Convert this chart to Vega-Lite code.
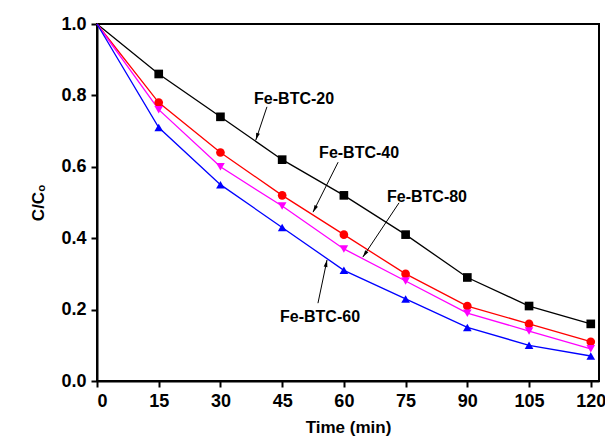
{
  "$schema": "https://vega.github.io/schema/vega-lite/v6.json",
  "width": 502,
  "height": 357,
  "autosize": {"type": "none"},
  "padding": {"left": 97, "top": 24, "right": 6, "bottom": 62},
  "background": "white",
  "config": {
    "font": "Liberation Sans",
    "view": {"stroke": "black", "strokeWidth": 2},
    "axis": {
      "domainColor": "black", "domainWidth": 2, "tickColor": "black", "tickWidth": 2,
      "tickSize": 6, "grid": false, "labelFont": "Liberation Sans", "labelFontWeight": "bold",
      "labelFontSize": 18, "labelColor": "black", "titleFont": "Liberation Sans",
      "titleFontWeight": "bold", "titleFontSize": 17, "titleColor": "black", "labelPadding": 5
    }
  },
  "datasets": {
    "series": [
      {"t": 0, "c": 1.0, "sample": "Fe-BTC-20"}, {"t": 15, "c": 0.86, "sample": "Fe-BTC-20"}, {"t": 30, "c": 0.74, "sample": "Fe-BTC-20"}, {"t": 45, "c": 0.62, "sample": "Fe-BTC-20"}, {"t": 60, "c": 0.52, "sample": "Fe-BTC-20"}, {"t": 75, "c": 0.41, "sample": "Fe-BTC-20"}, {"t": 90, "c": 0.29, "sample": "Fe-BTC-20"}, {"t": 105, "c": 0.21, "sample": "Fe-BTC-20"}, {"t": 120, "c": 0.16, "sample": "Fe-BTC-20"},
      {"t": 0, "c": 1.0, "sample": "Fe-BTC-40"}, {"t": 15, "c": 0.78, "sample": "Fe-BTC-40"}, {"t": 30, "c": 0.64, "sample": "Fe-BTC-40"}, {"t": 45, "c": 0.52, "sample": "Fe-BTC-40"}, {"t": 60, "c": 0.41, "sample": "Fe-BTC-40"}, {"t": 75, "c": 0.30, "sample": "Fe-BTC-40"}, {"t": 90, "c": 0.21, "sample": "Fe-BTC-40"}, {"t": 105, "c": 0.16, "sample": "Fe-BTC-40"}, {"t": 120, "c": 0.11, "sample": "Fe-BTC-40"},
      {"t": 0, "c": 1.0, "sample": "Fe-BTC-80"}, {"t": 15, "c": 0.76, "sample": "Fe-BTC-80"}, {"t": 30, "c": 0.60, "sample": "Fe-BTC-80"}, {"t": 45, "c": 0.49, "sample": "Fe-BTC-80"}, {"t": 60, "c": 0.37, "sample": "Fe-BTC-80"}, {"t": 75, "c": 0.28, "sample": "Fe-BTC-80"}, {"t": 90, "c": 0.19, "sample": "Fe-BTC-80"}, {"t": 105, "c": 0.14, "sample": "Fe-BTC-80"}, {"t": 120, "c": 0.09, "sample": "Fe-BTC-80"},
      {"t": 0, "c": 1.0, "sample": "Fe-BTC-60"}, {"t": 15, "c": 0.71, "sample": "Fe-BTC-60"}, {"t": 30, "c": 0.55, "sample": "Fe-BTC-60"}, {"t": 45, "c": 0.43, "sample": "Fe-BTC-60"}, {"t": 60, "c": 0.31, "sample": "Fe-BTC-60"}, {"t": 75, "c": 0.23, "sample": "Fe-BTC-60"}, {"t": 90, "c": 0.15, "sample": "Fe-BTC-60"}, {"t": 105, "c": 0.10, "sample": "Fe-BTC-60"}, {"t": 120, "c": 0.07, "sample": "Fe-BTC-60"}
    ],
    "notes": [
      {"label": "Fe-BTC-20", "tx": 47.9, "ty": 0.79, "x1": 41.3, "y1": 0.768, "x2": 38.6, "y2": 0.675},
      {"label": "Fe-BTC-40", "tx": 63.7, "ty": 0.639, "x1": 58.6, "y1": 0.613, "x2": 52.5, "y2": 0.473},
      {"label": "Fe-BTC-80", "tx": 80.2, "ty": 0.515, "x1": 73.4, "y1": 0.499, "x2": 64.6, "y2": 0.347},
      {"label": "Fe-BTC-60", "tx": 54.2, "ty": 0.179, "x1": 53.7, "y1": 0.218, "x2": 55.9, "y2": 0.339}
    ]
  },
  "layer": [
    {
      "data": {"name": "series"},
      "mark": {"type": "line", "strokeWidth": 1.3, "clip": false},
      "encoding": {
        "x": {"field": "t", "type": "quantitative", "scale": {"domain": [0, 122], "nice": false},
          "axis": {"title": "Time (min)", "values": [0, 7.5, 15, 22.5, 30, 37.5, 45, 52.5, 60, 67.5, 75, 82.5, 90, 97.5, 105, 112.5, 120],
            "labelExpr": "datum.value % 15 == 0 ? format(datum.value, 'd') : ''", "titlePadding": 9}},
        "y": {"field": "c", "type": "quantitative", "scale": {"domain": [0, 1], "nice": false},
          "axis": {"title": "C/Cₒ", "values": [0, 0.1, 0.2, 0.3, 0.4, 0.5, 0.6, 0.7, 0.8, 0.9, 1.0],
            "labelExpr": "round(datum.value * 10) % 2 == 0 ? format(datum.value, '.1f') : ''", "titlePadding": 13}},
        "color": {"field": "sample", "type": "nominal", "legend": null,
          "scale": {"domain": ["Fe-BTC-20", "Fe-BTC-40", "Fe-BTC-80", "Fe-BTC-60"], "range": ["#000000", "#ff0000", "#ff00ff", "#0000ff"]}},
        "detail": {"field": "sample"}
      }
    },
    {
      "data": {"name": "series"},
      "transform": [{"filter": "datum.t > 0"}],
      "mark": {"type": "point", "filled": true, "opacity": 1, "size": 75, "clip": false},
      "encoding": {
        "x": {"field": "t", "type": "quantitative"},
        "y": {"field": "c", "type": "quantitative"},
        "color": {"field": "sample", "type": "nominal", "legend": null},
        "shape": {"field": "sample", "type": "nominal", "legend": null,
          "scale": {"domain": ["Fe-BTC-20", "Fe-BTC-40", "Fe-BTC-80", "Fe-BTC-60"], "range": ["square", "circle", "triangle-down", "triangle-up"]}}
      }
    },
    {
      "data": {"name": "notes"},
      "mark": {"type": "text", "font": "Liberation Sans", "fontWeight": "bold", "fontSize": 16, "align": "center", "baseline": "middle", "color": "black"},
      "encoding": {"x": {"field": "tx", "type": "quantitative"}, "y": {"field": "ty", "type": "quantitative"}, "text": {"field": "label"}}
    },
    {
      "data": {"name": "notes"},
      "mark": {"type": "rule", "color": "black", "strokeWidth": 1},
      "encoding": {"x": {"field": "x1", "type": "quantitative"}, "y": {"field": "y1", "type": "quantitative"}, "x2": {"field": "x2"}, "y2": {"field": "y2"}}
    },
    {
      "data": {"name": "notes"},
      "transform": [{"filter": "datum.label == 'Fe-BTC-20'"}],
      "mark": {"type": "point", "shape": "M0,0L-0.35,1.3L0.35,1.3Z", "filled": true, "color": "black", "opacity": 1, "size": 120, "angle": 198},
      "encoding": {"x": {"field": "x2", "type": "quantitative"}, "y": {"field": "y2", "type": "quantitative"}}
    },
    {
      "data": {"name": "notes"},
      "transform": [{"filter": "datum.label == 'Fe-BTC-40'"}],
      "mark": {"type": "point", "shape": "M0,0L-0.35,1.3L0.35,1.3Z", "filled": true, "color": "black", "opacity": 1, "size": 120, "angle": 207},
      "encoding": {"x": {"field": "x2", "type": "quantitative"}, "y": {"field": "y2", "type": "quantitative"}}
    },
    {
      "data": {"name": "notes"},
      "transform": [{"filter": "datum.label == 'Fe-BTC-80'"}],
      "mark": {"type": "point", "shape": "M0,0L-0.35,1.3L0.35,1.3Z", "filled": true, "color": "black", "opacity": 1, "size": 120, "angle": 214},
      "encoding": {"x": {"field": "x2", "type": "quantitative"}, "y": {"field": "y2", "type": "quantitative"}}
    },
    {
      "data": {"name": "notes"},
      "transform": [{"filter": "datum.label == 'Fe-BTC-60'"}],
      "mark": {"type": "point", "shape": "M0,0L-0.35,1.3L0.35,1.3Z", "filled": true, "color": "black", "opacity": 1, "size": 120, "angle": 12},
      "encoding": {"x": {"field": "x2", "type": "quantitative"}, "y": {"field": "y2", "type": "quantitative"}}
    }
  ]
}
